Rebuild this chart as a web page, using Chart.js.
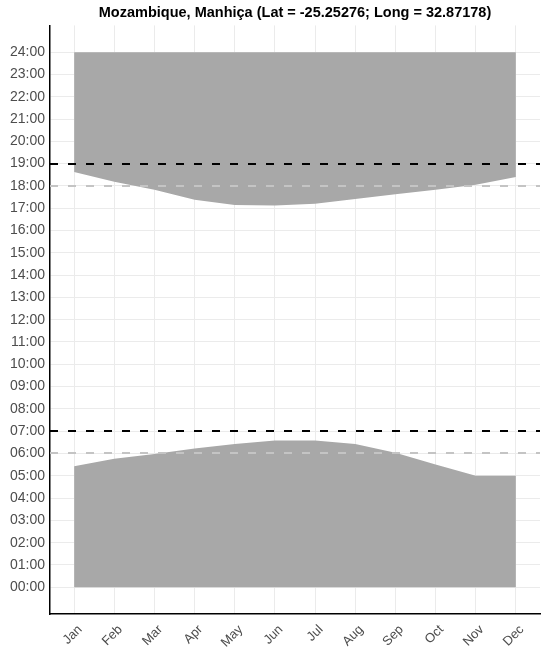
<!DOCTYPE html>
<html>
<head>
<meta charset="utf-8">
<script src="https://cdn.jsdelivr.net/npm/chart.js@4/dist/chart.umd.min.js"></script>
<style>
  html, body { margin: 0; padding: 0; background: #fff; }
  #wrap { width: 550px; height: 654px; }
</style>
</head>
<body>
<div id="wrap"><canvas id="myChart"></canvas></div>
<script>
var months = ['Jan', 'Feb', 'Mar', 'Apr', 'May', 'Jun', 'Jul', 'Aug', 'Sep', 'Oct', 'Nov', 'Dec'];
// sunrise / sunset in decimal hours
var sunrise = [5.43, 5.76, 5.98, 6.22, 6.43, 6.58, 6.58, 6.43, 6.03, 5.5, 5.0, 5.0];
var sunset = [18.63, 18.19, 17.83, 17.38, 17.15, 17.12, 17.2, 17.41, 17.63, 17.83, 18.05, 18.4];
var hourTicks = [0, 1, 2, 3, 4, 5, 6, 7, 8, 9, 10, 11, 12, 13, 14, 15, 16, 17, 18, 19, 20, 21, 22, 23, 24];
var refBlack = [7, 19];
var refGray = [6, 18];

var grey = '#a8a8a8';
var tickColor = '#4d4d4d';

function pts(arr) {
    return arr.map(function (v, i) { return { x: i, y: v }; });
}

// dashed reference lines across the panel
var refLines = {
    id: 'refLines',
    afterLayout: function (chart) {
        // center the title over the panel, not the whole canvas
        if (chart.titleBlock) {
            chart.titleBlock.left = chart.chartArea.left;
            chart.titleBlock.right = chart.chartArea.right;
        }
    },
    afterDatasetsDraw: function (chart) {
        var ctx = chart.ctx, a = chart.chartArea, y = chart.scales.y;
        function draw(list, color) {
            list.forEach(function (h) {
                var py = Math.round(y.getPixelForValue(h));
                ctx.save();
                ctx.strokeStyle = color;
                ctx.lineWidth = 2;
                ctx.setLineDash([8, 10]);
                ctx.beginPath();
                ctx.moveTo(a.left, py);
                ctx.lineTo(a.right, py);
                ctx.stroke();
                ctx.restore();
            });
        }
        draw(refGray, '#c4c4c4');
        draw(refBlack, '#000000');
    }
};

var ctx = document.getElementById('myChart').getContext('2d');
const myChart = new Chart(ctx, {
    type: 'line',
    data: {
        datasets: [
            {
                data: pts(sunset),
                fill: { value: 24 },
                backgroundColor: grey,
                borderWidth: 0,
                pointRadius: 0,
                tension: 0
            },
            {
                data: pts(sunrise),
                fill: 'origin',
                backgroundColor: grey,
                borderWidth: 0,
                pointRadius: 0,
                tension: 0
            }
        ]
    },
    options: {
        responsive: true,
        maintainAspectRatio: false,
        animation: false,
        layout: { padding: { left: 0, right: 10, top: 0, bottom: 0 } },
        plugins: {
            legend: { display: false },
            tooltip: { enabled: false },
            title: {
                display: true,
                text: 'Mozambique, Manhiça (Lat = -25.25276; Long = 32.87178)',
                color: '#000',
                font: { family: 'Liberation Sans, Arial, sans-serif', size: 14.5, weight: 'bold' },
                padding: { top: 4, bottom: 4 }
            }
        },
        scales: {
            x: {
                type: 'linear',
                min: -0.6,
                max: 11.6,
                afterBuildTicks: function (s) {
                    s.ticks = months.map(function (m, i) { return { value: i }; });
                },
                afterFit: function (s) { s.height = 40; },
                ticks: {
                    color: tickColor,
                    font: { family: 'Liberation Sans, Arial, sans-serif', size: 13 },
                    minRotation: 45,
                    maxRotation: 45,
                    padding: 8,
                    labelOffset: 6,
                    callback: function (v) { return months[v]; }
                },
                grid: { color: '#ebebeb', lineWidth: 1, drawTicks: false },
                border: { color: '#000', width: 1.5 }
            },
            y: {
                min: -1.2,
                max: 25.2,
                afterBuildTicks: function (s) {
                    s.ticks = hourTicks.map(function (h) { return { value: h }; });
                },
                afterFit: function (s) { s.width = 50; },
                ticks: {
                    color: tickColor,
                    font: { family: 'Liberation Sans, Arial, sans-serif', size: 14 },
                    padding: 5,
                    callback: function (v) { return (v < 10 ? '0' : '') + v + ':00'; }
                },
                grid: { color: '#ebebeb', lineWidth: 1, drawTicks: false },
                border: { color: '#000', width: 1.5 }
            }
        }
    },
    plugins: [refLines]
});
</script>
</body>
</html>
